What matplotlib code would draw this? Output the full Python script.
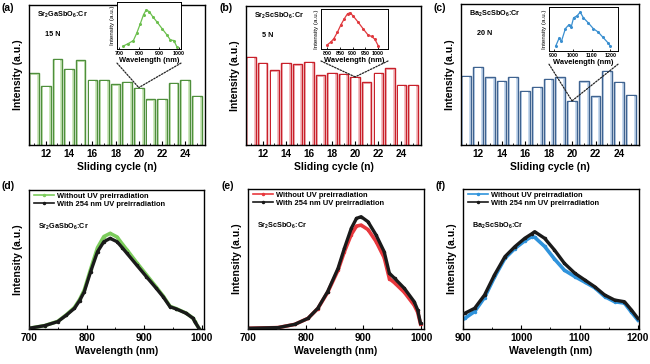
import matplotlib
matplotlib.use("Agg")
import matplotlib.pyplot as plt
from matplotlib.patches import ConnectionPatch
import numpy as np

plt.rcParams['font.family'] = ['Liberation Sans', 'DejaVu Sans']
plt.rcParams['font.weight'] = 'bold'
plt.rcParams['mathtext.fontset'] = 'custom'
plt.rcParams['mathtext.rm'] = 'Liberation Sans:bold'
plt.rcParams['mathtext.default'] = 'rm'

# ---------------- data ----------------
cycles = [11, 12, 13, 14, 15, 16, 17, 18, 19, 20, 21, 22, 23, 24, 25]
bars_a = [51.2, 42.1, 61.7, 54.5, 60.5, 46.4, 46.7, 43.3, 45.0, 41.0, 32.6, 32.9, 44.3, 46.7, 35.0]
bars_b = [63.6, 59.3, 53.8, 59.3, 58.1, 59.8, 50.2, 52.1, 51.0, 49.0, 45.2, 52.1, 55.2, 43.1, 43.1]
bars_c = [48.9, 55.5, 48.0, 45.6, 48.5, 38.4, 41.2, 47.0, 48.0, 31.3, 45.2, 34.4, 52.7, 44.7, 35.5]

materials = ['Sr$_2$GaSbO$_6$:Cr', 'Sr$_2$ScSbO$_6$:Cr', 'Ba$_2$ScSbO$_6$:Cr']
forces = ['15 N', '5 N', '20 N']

# inset spectra
ins_a_wl = [722, 747, 772, 789, 806, 823, 836, 851, 868, 890, 915, 940, 957, 974, 990]
ins_a_I = [0.04, 0.09, 0.15, 0.30, 0.48, 0.67, 0.76, 0.73, 0.63, 0.52, 0.39, 0.26, 0.16, 0.15, 0.02]
ins_b_wl = [800, 813, 826, 840, 853, 867, 880, 890, 903, 920, 941, 961, 975, 988, 1001]
ins_b_I = [0.08, 0.14, 0.225, 0.375, 0.54, 0.69, 0.81, 0.83, 0.75, 0.625, 0.46, 0.31, 0.275, 0.21, 0.06]
ins_c_wl = [910, 928, 941, 962, 980, 993, 1005, 1023, 1040, 1057, 1083, 1109, 1135, 1161, 1187, 1200]
ins_c_I = [0.08, 0.25, 0.19, 0.46, 0.54, 0.50, 0.69, 0.73, 0.81, 0.69, 0.58, 0.46, 0.385, 0.27, 0.155, 0.08]

# bottom spectra
d_wl = [700, 727, 750, 765, 779, 788, 796, 807, 819, 830, 841, 853, 862, 870, 887, 904, 921, 933, 945, 956, 973, 985, 988, 996]
d_without = [0.005, 0.024, 0.055, 0.103, 0.155, 0.213, 0.280, 0.430, 0.585, 0.665, 0.688, 0.662, 0.612, 0.570, 0.478, 0.390, 0.302, 0.238, 0.163, 0.146, 0.114, 0.078, 0.054, 0.0]
d_with = [0.005, 0.024, 0.053, 0.100, 0.149, 0.205, 0.268, 0.412, 0.556, 0.628, 0.652, 0.628, 0.585, 0.545, 0.460, 0.376, 0.293, 0.232, 0.160, 0.144, 0.113, 0.077, 0.053, 0.0]

e_wl = [700, 752, 781, 804, 821, 838, 856, 867, 879, 888, 896, 908, 922, 936, 945, 954, 971, 988, 994, 999]
e_without = [0.005, 0.010, 0.033, 0.076, 0.146, 0.262, 0.420, 0.552, 0.675, 0.735, 0.742, 0.710, 0.625, 0.510, 0.360, 0.330, 0.262, 0.170, 0.120, 0.035]
e_with = [0.005, 0.010, 0.033, 0.076, 0.148, 0.267, 0.433, 0.576, 0.719, 0.790, 0.802, 0.766, 0.671, 0.552, 0.398, 0.362, 0.290, 0.195, 0.136, 0.040]

f_wl = [903, 920, 937, 954, 972, 989, 1006, 1018, 1023, 1040, 1057, 1074, 1092, 1109, 1126, 1143, 1160, 1177, 1189, 1200]
f_without = [0.076, 0.125, 0.225, 0.370, 0.505, 0.575, 0.630, 0.660, 0.655, 0.590, 0.500, 0.420, 0.374, 0.335, 0.295, 0.232, 0.195, 0.185, 0.120, 0.064]
f_with = [0.112, 0.148, 0.243, 0.386, 0.517, 0.588, 0.648, 0.680, 0.695, 0.648, 0.564, 0.469, 0.398, 0.350, 0.302, 0.243, 0.207, 0.195, 0.136, 0.076]

# ---------------- style ----------------
bar_edges = ['#4f8f3c', '#c8202a', '#3f6390']
bar_faces = ['#cfe9bf', '#f4c1c5', '#c7daef']
inset_cols = ['#6cbf4e', '#e03a3f', '#3a8fd0']
spec_cols = ['#7ccc5c', '#e8383d', '#2f93dc']

W, H = 650, 364
fig = plt.figure(figsize=(6.5, 3.64), dpi=100)

def fax(l, t, r, b):
    return fig.add_axes([l / W, 1 - b / H, (r - l) / W, (b - t) / H])

top_boxes = [(29, 5, 205, 145), (246, 6, 421, 145), (461, 4, 639, 145)]
inset_boxes = [(117, 2, 181, 49), (321, 9, 388, 49), (549, 7, 618, 51)]
bot_boxes = [(29, 190, 204, 329), (248, 189, 424, 329), (463, 189, 639, 329)]
letters_top = ['(a)', '(b)', '(c)']
letters_bot = ['(d)', '(e)', '(f)']

bars = [bars_a, bars_b, bars_c]
ins_wl = [ins_a_wl, ins_b_wl, ins_c_wl]
ins_I = [ins_a_I, ins_b_I, ins_c_I]
ins_xlim = [(690, 1010), (775, 1040), (875, 1240)]
ins_ticks = [[700, 800, 900, 1000], [800, 850, 900, 950, 1000], [900, 1000, 1100, 1200]]

for i in range(3):
    ax = fax(*top_boxes[i])
    ax.bar(cycles, bars[i], width=0.82, color=bar_faces[i], edgecolor=bar_edges[i], linewidth=1.0)
    ax.bar(cycles, [v - 1.0 for v in bars[i]], width=0.5, color='white', edgecolor='none')
    ax.set_xlim(10.55, 25.7)
    ax.set_ylim(0, 100)
    ax.set_xticks([12, 14, 16, 18, 20, 22, 24])
    ax.set_xticks(cycles, minor=True)
    ax.set_yticks([])
    ax.tick_params(axis='x', which='major', direction='in', length=3, labelsize=7.2, pad=3)
    ax.tick_params(axis='x', which='minor', direction='in', length=1.5)
    for lab in ax.get_xticklabels():
        lab.set_fontweight('bold')
    for s in ax.spines.values():
        s.set_linewidth(1.0)
    ax.set_xlabel('Sliding cycle (n)', fontsize=7.5, fontweight='bold', labelpad=2)
    ax.set_ylabel('Intensity (a.u.)', fontsize=7.5, fontweight='bold', labelpad=4)
    ax.text(0.045, 0.93, materials[i], transform=ax.transAxes, fontsize=5.2, fontweight='bold', va='center')
    ax.text(0.09, 0.79, forces[i], transform=ax.transAxes, fontsize=5.2, fontweight='bold', va='center')
    fig.text((top_boxes[i][0] - 27) / W, 1 - 8 / H, letters_top[i], fontsize=7.5, fontweight='bold', va='center')

    # inset
    ia = fax(*inset_boxes[i])
    ia.plot(ins_wl[i], ins_I[i], color=inset_cols[i], lw=0.9, marker='o', markersize=1.2)
    ia.set_xlim(*ins_xlim[i])
    ia.set_ylim(-0.02, 0.92)
    ia.set_xticks(ins_ticks[i])
    ia.set_yticks([])
    ia.tick_params(axis='x', direction='in', length=1.5, labelsize=3.9, pad=1.5, width=0.6)
    for s in ia.spines.values():
        s.set_linewidth(0.7)
    ia.set_xlabel('Wavelength (nm)', fontsize=5.4, fontweight='bold', labelpad=1)
    ia.set_ylabel('Intensity (a.u.)', fontsize=4.5, fontweight='normal', labelpad=1.5)

    # dotted connectors to cycle 20
    idx = cycles.index(20)
    for xa in (0.0, 1.0):
        con = ConnectionPatch(xyA=(xa, -0.3), coordsA=ia.transAxes,
                              xyB=(20, bars[i][idx]), coordsB=ax.transData,
                              linestyle=(0, (1.2, 1.2)), color='#222222', lw=0.9)
        fig.add_artist(con)

# bottom row
specs = [(d_wl, d_without, d_with), (e_wl, e_without, e_with), (f_wl, f_without, f_with)]
xl = [(700, 1004), (700, 1005), (900, 1202)]
xt = [[700, 800, 900, 1000], [700, 800, 900, 1000], [900, 1000, 1100, 1200]]
xtm = [np.arange(700, 1001, 50), np.arange(700, 1001, 50), np.arange(900, 1201, 50)]
for i in range(3):
    ax = fax(*bot_boxes[i])
    wl, wo, wi = specs[i]
    ax.plot(wl, wo, color=spec_cols[i], lw=2.6, marker='o', markersize=1.5,
            label='Without UV preirradiation', zorder=2)
    ax.plot(wl, wi, color='#1a1a1a', lw=2.4, marker='o', markersize=1.5,
            label='With 254 nm UV preirradiation', zorder=3)
    ax.set_xlim(*xl[i])
    ax.set_ylim(0, 1)
    ax.set_xticks(xt[i])
    ax.set_xticks(xtm[i], minor=True)
    ax.set_yticks([])
    ax.tick_params(axis='x', which='major', direction='in', length=3, labelsize=7.2, pad=3)
    ax.tick_params(axis='x', which='minor', direction='in', length=1.5)
    for lab in ax.get_xticklabels():
        lab.set_fontweight('bold')
    for s in ax.spines.values():
        s.set_linewidth(1.0)
    ax.set_xlabel('Wavelength (nm)', fontsize=7.5, fontweight='bold', labelpad=2)
    ax.set_ylabel('Intensity (a.u.)', fontsize=7.5, fontweight='bold', labelpad=4)
    leg = ax.legend(loc='upper left', bbox_to_anchor=(0.0, 1.02), frameon=False,
                    prop={'size': 5.4, 'weight': 'bold'}, handlelength=2.6,
                    handletextpad=0.4, labelspacing=0.15, borderaxespad=0.3)
    for ln in leg.get_lines():
        ln.set_linewidth(1.2)
    ax.text(0.05, 0.735, materials[i], transform=ax.transAxes, fontsize=5.2, fontweight='bold', va='center')
    fig.text((bot_boxes[i][0] - 27) / W, 1 - 186 / H, letters_bot[i], fontsize=7.5, fontweight='bold', va='center')

fig.savefig('out.png', dpi=100)
